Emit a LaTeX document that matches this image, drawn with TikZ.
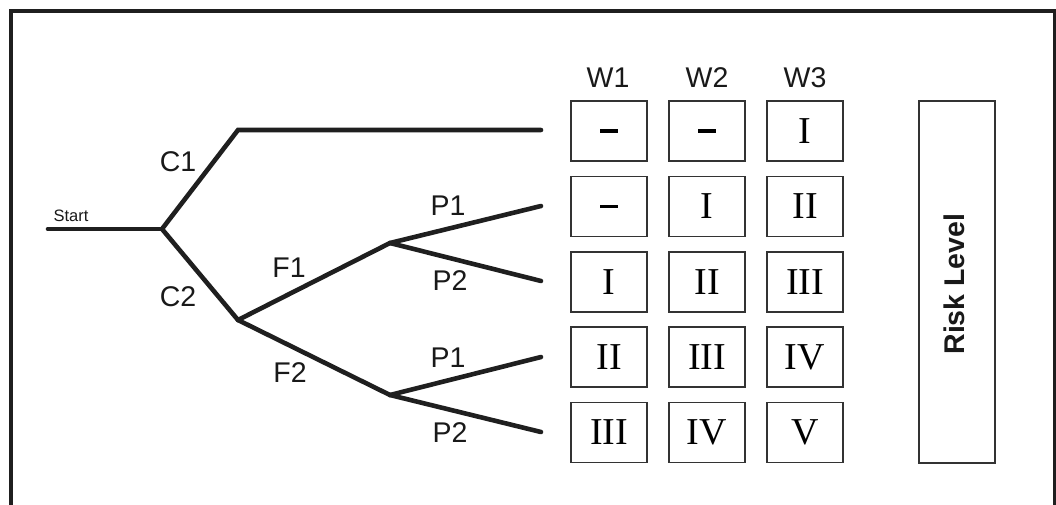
\documentclass[tikz,border=0pt]{standalone}
\usepackage{fontspec}
\setmainfont{Liberation Serif}
\newfontfamily\labelfont{Liberation Sans}
\newcommand{\nolevel}{\rule{18pt}{3.2pt}}
\begin{document}
\begin{tikzpicture}[x=1pt,y=-1pt,
  branch/.style={line width=4.6pt,draw=black!88,line cap=round,line join=miter},
  cell/.style={draw=black!80,line width=1.2pt,minimum width=76pt,minimum height=60pt,
    inner sep=0pt,font=\fontsize{38}{38}\selectfont},
  lbl/.style={font=\labelfont\fontsize{28.5}{28.5}\selectfont,inner sep=0pt,text=black!90},
  frame/.style={line width=4pt,draw=black!88}]
\useasboundingbox (0,0) rectangle (1056,504);
\clip (0,0) rectangle (1056,504);
\draw[frame] (10.5,11) rectangle (1055,560);

% tree junctions and branch ends
\coordinate (s0) at (48,229);
\coordinate (c) at (162,229);
\coordinate (c1) at (238,130);
\coordinate (f) at (238,320);
\coordinate (p) at (390,243);
\coordinate (q) at (390,395);
\coordinate (e1) at (541,130);
\coordinate (e2) at (541,206);
\coordinate (e3) at (541,281);
\coordinate (e4) at (541,357);
\coordinate (e5) at (541,432);

\draw[branch] (s0) -- (c);
\draw[branch] (c) -- (c1) -- (e1);
\draw[branch] (c) -- (f);
\draw[branch] (f) -- (p);
\draw[branch] (f) -- (q);
\draw[branch] (p) -- (e2);
\draw[branch] (p) -- (e3);
\draw[branch] (q) -- (e4);
\draw[branch] (q) -- (e5);

% branch labels
\node[lbl,font=\labelfont\fontsize{16.5}{16.5}\selectfont] (tstart) at (71,216) {Start};
\node[lbl] (tc1) at (178,162) {C1};
\node[lbl] (tc2) at (178,297) {C2};
\node[lbl] (tf1) at (289,268) {F1};
\node[lbl] (tf2) at (290,373) {F2};
\node[lbl] (tp1a) at (448,206) {P1};
\node[lbl] (tp2a) at (450,281) {P2};
\node[lbl] (tp1b) at (448,358) {P1};
\node[lbl] (tp2b) at (450,433) {P2};

% column headings
\node[lbl] (w1) at (608,78) {W1};
\node[lbl] (w2) at (707,78) {W2};
\node[lbl] (w3) at (805,78) {W3};

% risk table
\node[cell] (a1) at (609,131) {\nolevel};
\node[cell] (b1) at (707,131) {\nolevel};
\node[cell] (d1) at (805,131) {I};
\node[cell] (a2) at (609,206.5) {\nolevel};
\node[cell] (b2) at (707,206.5) {I};
\node[cell] (d2) at (805,206.5) {II};
\node[cell] (a3) at (609,282) {I};
\node[cell] (b3) at (707,282) {II};
\node[cell] (d3) at (805,282) {III};
\node[cell] (a4) at (609,357) {II};
\node[cell] (b4) at (707,357) {III};
\node[cell] (d4) at (805,357) {IV};
\node[cell] (a5) at (609,432.5) {III};
\node[cell] (b5) at (707,432.5) {IV};
\node[cell] (d5) at (805,432.5) {V};

% risk level bar
\node[draw=black!80,line width=1.2pt,minimum width=76pt,minimum height=362pt,inner sep=0pt] (risk) at (957,282) {};
\node[lbl,rotate=90,font=\labelfont\bfseries\fontsize{28.5}{28.5}\selectfont] (risktxt) at (954,284) {Risk Level};
\end{tikzpicture}
\end{document}
